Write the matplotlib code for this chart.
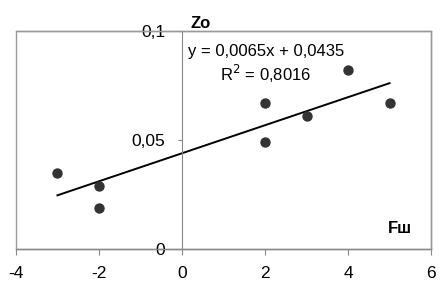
import numpy as np
import matplotlib.pyplot as plt
from matplotlib.patches import Rectangle

plt.rcParams['font.family'] = ['Liberation Sans', 'DejaVu Sans']

# data
fsh = [-3, -2, -2, 2, 2, 3, 4, 5]
zo = [0.035, 0.029, 0.019, 0.049, 0.067, 0.061, 0.082, 0.067]
xticks = [-4, -2, 0, 2, 4, 6]
yticks = [0, 0.05, 0.1]
ytick_labels = ['0', '0,05', '0,1']
eq_text = 'y = 0,0065x + 0,0435\nR$^2$ = 0,8016'

fig = plt.figure(figsize=(4.43, 2.94), dpi=100)
ax = fig.add_axes([0.036, 0.153, 0.937, 0.742])

ax.scatter(fsh, zo, s=42, color='#333333', zorder=3)

k, b = np.polyfit(fsh, zo, 1)
xl = np.array([min(fsh), max(fsh)])
ax.plot(xl, k * xl + b, color='black', lw=1.4, zorder=2)

ax.set_xlim(-4, 6)
ax.set_ylim(0, 0.1)
ax.set_xticks(xticks)
ax.set_xticklabels([str(t) for t in xticks])
ax.set_yticks(yticks)
ax.set_yticklabels(ytick_labels)

for s in ['top', 'right']:
    ax.spines[s].set_color('#999999')
    ax.spines[s].set_linewidth(1.0)
ax.spines['left'].set_position(('data', 0))
ax.spines['left'].set_color('#888888')
ax.spines['left'].set_linewidth(0.8)
ax.spines['bottom'].set_color('#888888')
ax.spines['bottom'].set_linewidth(1.0)
ax.add_patch(Rectangle((0, 0), 1, 1, transform=ax.transAxes, fill=False,
                       edgecolor='#999999', lw=1.0, clip_on=False, zorder=1))

ax.tick_params(axis='x', direction='out', length=4, color='#888888',
               labelsize=12.5, pad=8)
ax.tick_params(axis='y', direction='out', length=3, color='#888888',
               labelsize=12.5, pad=9)

ax.text(2.02, 0.0847, eq_text, ha='center', va='center', fontsize=12,
        linespacing=1.2)
ax.text(0.2, 0.1, 'Zo', fontsize=12, fontweight='bold', ha='left',
        va='bottom')
ax.text(5.55, 0.0096, 'Fш', fontsize=12, fontweight='bold', ha='right',
        va='center')

fig.savefig('out.png', dpi=100)
